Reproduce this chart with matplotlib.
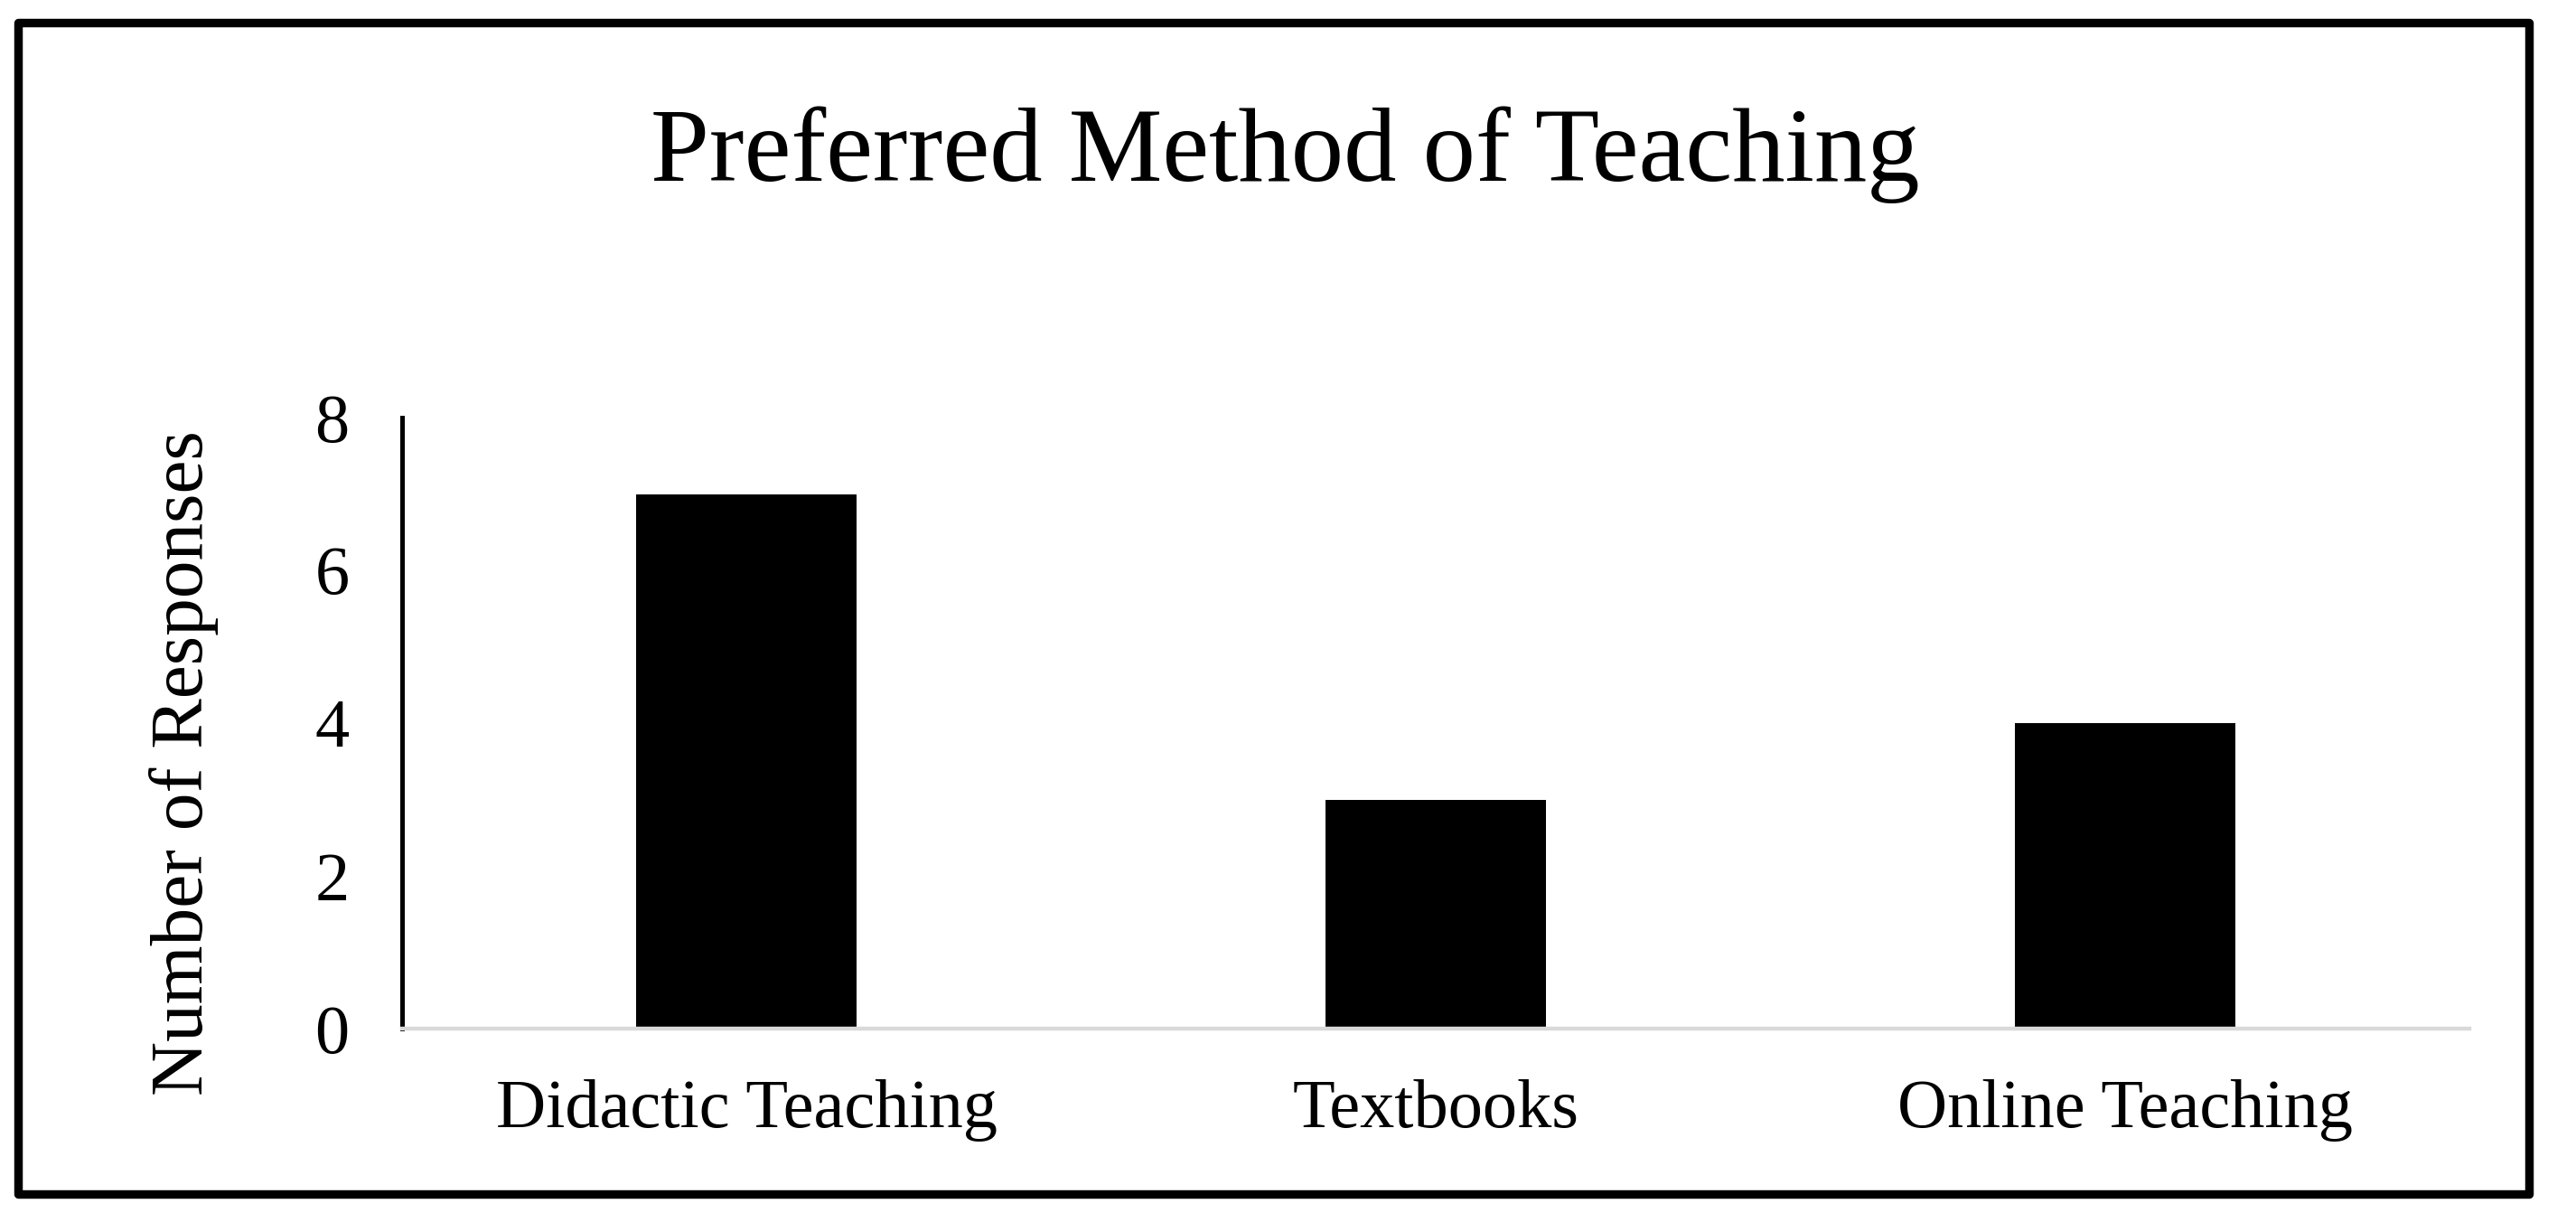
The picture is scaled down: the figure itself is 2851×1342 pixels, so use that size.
import matplotlib
matplotlib.use("Agg")
import matplotlib.pyplot as plt
from matplotlib.patches import Rectangle

categories = ["Didactic Teaching", "Textbooks", "Online Teaching"]
values = [7, 3, 4]
yticks = [0, 2, 4, 6, 8]
title = "Preferred Method of Teaching"
ylabel = "Number of Responses"

plt.rcParams['font.family'] = ['Liberation Serif', 'DejaVu Serif']

W, H, DPI = 2851, 1342, 100
fig = plt.figure(figsize=(W / DPI, H / DPI), dpi=DPI)
fig.patch.set_facecolor("white")

ax = fig.add_axes([445 / W, 1 - 1138 / H, (2733 - 445) / W, (1138 - 462) / H])
x = list(range(len(categories)))
ax.bar(x, values, width=0.32, color="black", zorder=3)
ax.set_xlim(-0.5, len(categories) - 0.5)
ax.set_ylim(0, 8)
ax.set_yticks(yticks)
ax.set_yticklabels([str(t) for t in yticks])
ax.set_xticks(x)
ax.set_xticklabels(categories)
ax.tick_params(axis="both", length=0, labelsize=55)
ax.tick_params(axis="y", pad=42)
ax.tick_params(axis="x", pad=40)

for s in ["top", "right"]:
    ax.spines[s].set_visible(False)
ax.spines["left"].set_color("black")
ax.spines["left"].set_linewidth(3.6)
ax.spines["bottom"].set_color("#d9d9d9")
ax.spines["bottom"].set_linewidth(3.2)
ax.spines["bottom"].set_zorder(4)

fig.text(203 / W, 1 - 844 / H, ylabel, rotation=90, ha="center", va="center",
         fontsize=60)

fig.text(0.499, 1 - 200 / H, title, ha="center", va="baseline", fontsize=84)

border = Rectangle((20 / W, 1 - 1321 / H), (2799 - 20) / W, (1321 - 25) / H,
                   transform=fig.transFigure, fill=False, edgecolor="black",
                   linewidth=6.8, joinstyle="round")
fig.patches.append(border)

fig.savefig("out.png", dpi=DPI, facecolor="white")
